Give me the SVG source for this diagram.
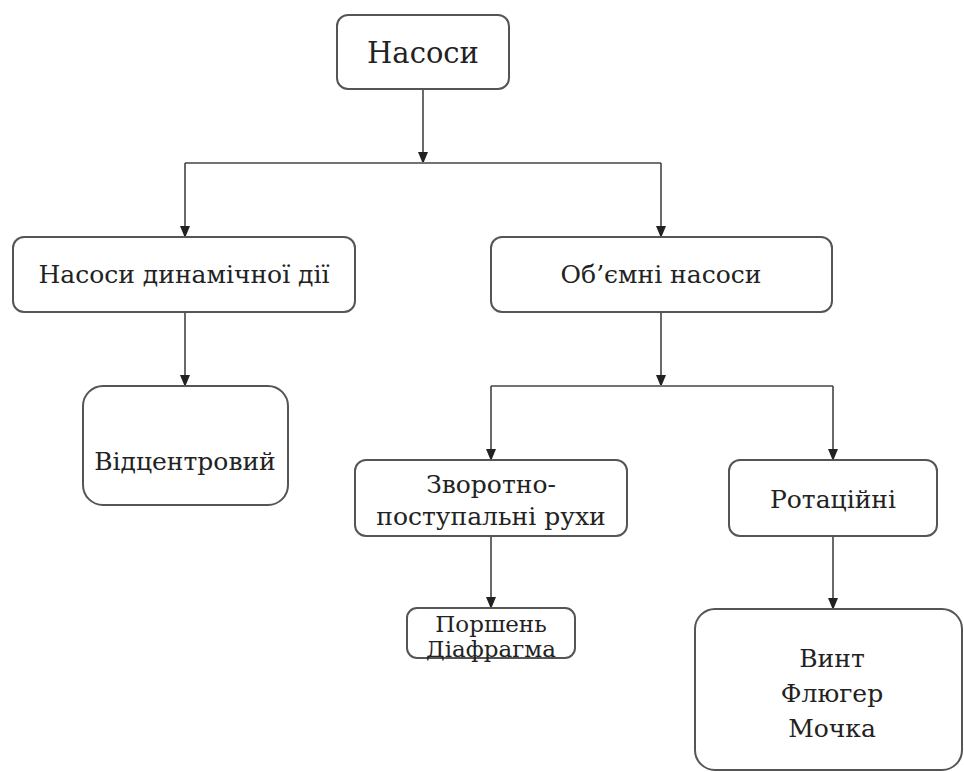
<svg xmlns="http://www.w3.org/2000/svg" width="964" height="772" viewBox="0 0 964 772">
<style>
.box{fill:#fff;stroke:#555;stroke-width:2}
.t{font-family:'DejaVu Serif','Liberation Serif',serif;font-size:25px;fill:#222;text-anchor:middle}
.c{fill:none;stroke:#444;stroke-width:1.6}
</style>
<defs>
<marker id="ah" viewBox="0 0 10 12" refX="10" refY="5" markerWidth="10" markerHeight="12" markerUnits="userSpaceOnUse" orient="auto">
<path d="M0,0 L12,5 L0,10 Z" fill="#222"/>
</marker>
</defs>
<rect width="964" height="772" fill="#fff"/>
<g id="connectors">
<path class="c" d="M423,89 V162" marker-end="url(#ah)"/>
<path class="c" d="M185,163 H661"/>
<path class="c" d="M185,163 V236" marker-end="url(#ah)"/>
<path class="c" d="M661,163 V236" marker-end="url(#ah)"/>
<path class="c" d="M185,312 V385" marker-end="url(#ah)"/>
<path class="c" d="M661,312 V385" marker-end="url(#ah)"/>
<path class="c" d="M491,386 H833"/>
<path class="c" d="M491,386 V459" marker-end="url(#ah)"/>
<path class="c" d="M833,386 V459" marker-end="url(#ah)"/>
<path class="c" d="M491,536 V607" marker-end="url(#ah)"/>
<path class="c" d="M833,536 V608" marker-end="url(#ah)"/>
</g>
<g id="n-nasosy">
<rect class="box" x="337" y="15" width="172" height="74" rx="11"/>
<text class="t" x="423" y="63" style="font-size:29px">Насоси</text>
</g>
<g id="n-dynamic">
<rect class="box" x="13" y="237" width="342" height="75" rx="11"/>
<text class="t" x="184" y="283">Насоси динамічної дії</text>
</g>
<g id="n-volume">
<rect class="box" x="491" y="237" width="341" height="75" rx="11"/>
<text class="t" x="661" y="283">Об’ємні насоси</text>
</g>
<g id="n-centr">
<rect class="box" x="83" y="386" width="205" height="119" rx="20"/>
<text class="t" x="185" y="470">Відцентровий</text>
</g>
<g id="n-zvorot">
<rect class="box" x="355" y="460" width="272" height="76" rx="11"/>
<text class="t" x="491" y="493">Зворотно-</text>
<text class="t" x="491" y="525">поступальні рухи</text>
</g>
<g id="n-rotac">
<rect class="box" x="729" y="460" width="208" height="76" rx="11"/>
<text class="t" x="833" y="508">Ротаційні</text>
</g>
<g id="n-porshen">
<rect class="box" x="407" y="608" width="168" height="50" rx="10"/>
<text class="t" x="491" y="632" style="font-size:23px">Поршень</text>
<text class="t" x="491" y="657" style="font-size:23px">Діафрагма</text>
</g>
<g id="n-vynt">
<rect class="box" x="695" y="609" width="267" height="161" rx="20"/>
<text class="t" x="832" y="667">Винт</text>
<text class="t" x="832" y="702">Флюгер</text>
<text class="t" x="832" y="737">Мочка</text>
</g>
</svg>
